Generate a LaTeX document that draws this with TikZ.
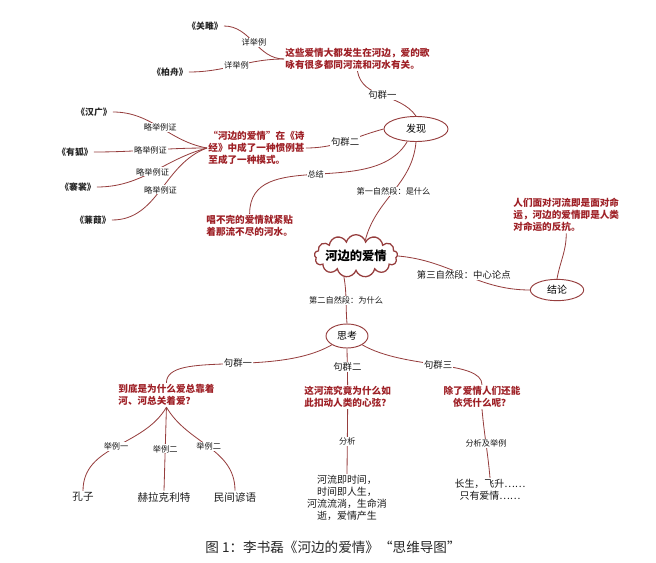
\documentclass[tikz,border=0pt]{standalone}
\usepackage{fontspec}
\setmainfont{Noto Sans CJK SC}
\usetikzlibrary{shapes.geometric,shapes.symbols}
\definecolor{hered}{RGB}{158,32,38}
\definecolor{heline}{RGB}{150,62,62}
\tikzset{redtxt/.style = {text=hered,font=\fontsize{8.2}{10.5}\selectfont\bfseries,inner sep=1pt}}
\tikzset{lbl/.style = {fill=white,text=black!90,font=\fontsize{7}{8}\selectfont,inner sep=0.6pt}}
\tikzset{grp/.style = {lbl,font=\fontsize{8}{9}\selectfont}}
\tikzset{oval/.style = {shape=ellipse,draw=heline,line width=0.8pt,inner sep=0pt,font=\fontsize{8.5}{9}\selectfont}}
\tikzset{book/.style = {text=black!85,font=\fontsize{7.5}{9}\selectfont\bfseries,inner sep=1pt}}
\tikzset{leaf/.style = {text=black!90,font=\fontsize{8.5}{10.3}\selectfont,inner sep=1pt,align=center}}
\tikzset{leafbig/.style = {leaf,font=\fontsize{9}{10}\selectfont}}
\tikzset{link/.style = {draw=heline,line width=0.7pt}}

\begin{document}
\begin{tikzpicture}[x=0.03cm,y=0.03cm]
  \useasboundingbox (0,0) rectangle (656,-562);

  % top left
  \node[book] (guanju) at (205,-26) {《关雎》};
  \node[book] (baizhou) at (170,-72) {《柏舟》};
  \node[redtxt,anchor=west,align=left] (geyong) at (284,-59) {这些爱情大都发生在河边，爱的歌\\咏有很多都同河流和河水有关。};

  \node[book] (hanguang) at (94,-112) {《汉广》};
  \node[book] (youhu) at (75,-152) {《有狐》};
  \node[book] (qianshang) at (78,-187) {《褰裳》};
  \node[book] (jianjia) at (93,-220) {《蒹葭》};
  \node[redtxt,anchor=west,align=left] (guanli) at (207,-148) {“河边的爱情”在《诗\\经》中成了一种惯例甚\\至成了一种模式。};
  \node[redtxt,anchor=west,align=left] (changbuwan) at (205,-226) {唱不完的爱情就紧贴\\着那流不尽的河水。};

  % centre
  \node[oval,minimum width=1.92cm,minimum height=0.75cm] (faxian) at (416,-129) {发现};
  \node[cloud,draw=heline,line width=1.1pt,cloud puffs=13,aspect=2.8,inner sep=-2pt,
        font=\fontsize{10.5}{12}\selectfont\bfseries] (aiqing) at (356,-256) {河边的爱情};
  \node[oval,minimum width=1.6cm,minimum height=0.64cm] (jielun) at (557,-290) {结论};
  \node[redtxt,anchor=west,align=left] (mingyun) at (512,-215) {人们面对河流即是面对命\\运，河边的爱情即是人类\\对命运的反抗。};
  \node[oval,minimum width=1.26cm,minimum height=0.72cm] (sikao) at (347,-336) {思考};

  % bottom
  \node[redtxt,anchor=west,align=left] (daodi) at (117,-395) {到底是为什么爱总靠着\\河、河总关着爱？};
  \node[redtxt,anchor=west,align=left] (xinxian) at (303,-397) {这河流究竟为什么如\\此扣动人类的心弦？};
  \node[redtxt,align=center] (yiping) at (482,-397) {除了爱情人们还能\\依凭什么呢？};
  \node[leaf] (shijian) at (347,-498) {河流即时间，\\时间即人生，\\河流流淌，生命消\\逝，爱情产生};
  \node[leaf] (changsheng) at (490,-490) {长生，飞升……\\只有爱情……};
  \node[leafbig] (kongzi) at (83,-497) {孔子};
  \node[leafbig] (hlklt) at (164,-497) {赫拉克利特};
  \node[leafbig] (yanyu) at (235,-497) {民间谚语};

  \node[font=\fontsize{11.6}{12}\selectfont,text=black!85] (caption) at (333,-547) {图 1：李书磊《河边的爱情》“思维导图”};

  \draw[link] (guanju.east) to[out=0,in=180] node[lbl] (xj1) {详举例} (geyong.west);
  \draw[link] (baizhou.east) to[out=0,in=180] node[lbl] (xj2) {详举例} (geyong.west);
  \draw[link] (geyong.south) to[out=-80,in=125] node[grp] (jq1) {句群一} (faxian.north);
  \draw[link] (faxian.west) to[out=195,in=0] node[grp] (jq2) {句群二} (guanli.east);
  \draw[link] (faxian.235) to[out=-120,in=90] node[lbl] (zj) {总结} (changbuwan.north);

  \draw[link] (hanguang.east) to[out=0,in=170] node[lbl] (lj1) {略举例证} (guanli.west);
  \draw[link] (youhu.east) to[out=0,in=180] node[lbl] (lj2) {略举例证} (guanli.west);
  \draw[link] (qianshang.east) to[out=0,in=195] node[lbl] (lj3) {略举例证} (guanli.west);
  \draw[link] (jianjia.east) to[out=0,in=200] node[lbl] (lj4) {略举例证} (guanli.west);

  \draw[link] (faxian.south) to[out=-95,in=75] node[lbl] (d1) {第一自然段：是什么} (aiqing.60);
  \draw[link] (aiqing.east) to[out=-5,in=180] node[grp] (d3) {第三自然段：中心论点} (jielun.west);
  \draw[link] (jielun.north) to[out=80,in=-90] (mingyun.south);
  \draw[link] (aiqing.240) to[out=-80,in=95] node[lbl] (d2) {第二自然段：为什么} (sikao.north);

  \draw[link] (sikao.south west) to[out=-150,in=90,in looseness=0.5] node[grp,pos=0.45] (jq4) {句群一} (daodi.north);
  \draw[link] (sikao.south) -- node[grp] (jq5) {句群二} (xinxian.north);
  \draw[link] (sikao.south east) to[out=-30,in=90,in looseness=0.5] node[grp] (jq6) {句群三} (yiping.north);
  \draw[link] (xinxian.south) -- node[lbl] (fx1) {分析} (shijian.north);
  \draw[link] (yiping.south) to[out=-85,in=95] node[lbl] (fx2) {分析及举例} (changsheng.north);
  \draw[link] (daodi.south) to[out=-120,in=90] node[lbl] (jl1) {举例一} (kongzi.north);
  \draw[link] (daodi.south) -- node[lbl] (jl2) {举例二} (hlklt.north);
  \draw[link] (daodi.south) to[out=-60,in=90] node[lbl] (jl3) {举例二} (yanyu.north);
\end{tikzpicture}
\end{document}
